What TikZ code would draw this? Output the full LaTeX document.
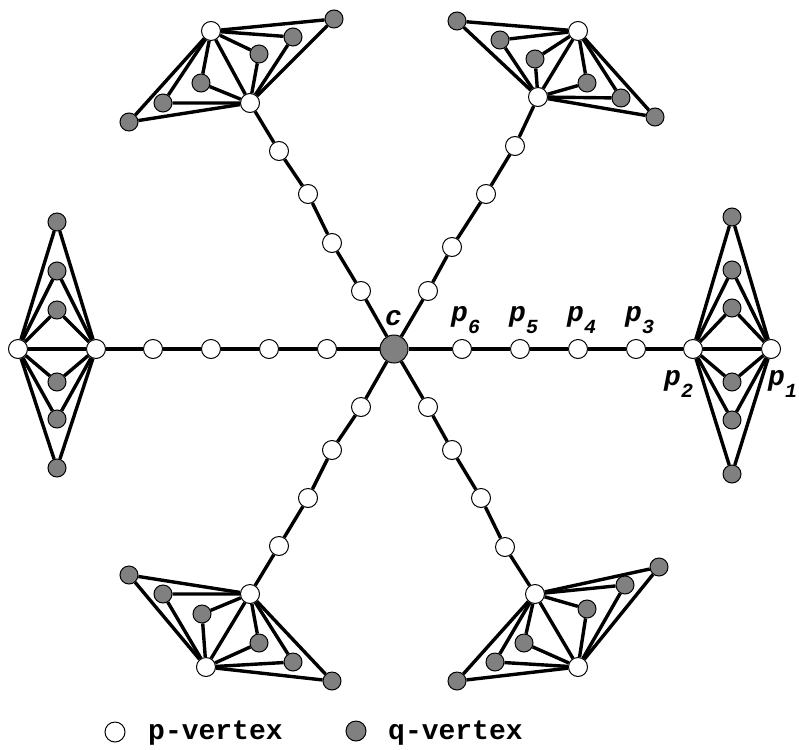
\documentclass[tikz,border=0pt]{standalone}
\usepackage{fontspec}
\setmonofont{Liberation Mono}
\usepackage{tikz}
\usetikzlibrary{backgrounds}
\definecolor{qgray}{RGB}{128,128,128}
\newcommand{\psub}[1]{\raisebox{-12pt}{\fontsize{20}{20}\selectfont #1}}

\begin{document}
\begin{tikzpicture}[x=1pt, y=-1pt,
  pv/.style={circle, draw, fill=white, line width=1pt,
    minimum size=19pt, inner sep=0pt},
  qv/.style={pv, fill=qgray, minimum size=18pt},
  edge/.style={line width=3.4pt},
  lab/.style={font=\ttfamily\bfseries\itshape\fontsize{28}{28}\selectfont,
    inner sep=0pt, anchor=base west},
  legend/.style={font=\ttfamily\bfseries\fontsize{28}{28}\selectfont,
    inner sep=0pt, anchor=base west}
]
\useasboundingbox (0,0) rectangle (799,749);
\node[qv, minimum size=28pt] (c) at (394,349) {};
% right
\foreach \x [count=\i] in {462,520,578,636} \node[pv] (rt\i) at (\x,349) {};
\node[pv] (rt-p2) at (693,349) {};
\node[pv] (rt-p1) at (771,349) {};
\foreach \y [count=\i] in {217,270,308,382,420,474} \node[qv] (rt-q\i) at (732,\y) {};
% left
\foreach \x [count=\i] in {327,269,211,153} \node[pv] (lf\i) at (\x,349) {};
\node[pv] (lf-p2) at (96,349) {};
\node[pv] (lf-p1) at (18,349) {};
\foreach \y [count=\i] in {222,271,310,382,419,468} \node[qv] (lf-q\i) at (57,\y) {};
% upper right
\foreach \x/\y [count=\i] in {428/291,452/247,486/194,515/146} \node[pv] (ur\i) at (\x,\y) {};
\node[pv] (ur-p2) at (538,97) {};
\node[pv] (ur-p1) at (578,31) {};
\foreach \x/\y [count=\i] in {457/21,500/40,535/59,587/83,621/98,655/117}
  \node[qv] (ur-q\i) at (\x,\y) {};
% upper left
\foreach \x/\y [count=\i] in {361/291,332/243,308/194,279/151} \node[pv] (ul\i) at (\x,\y) {};
\node[pv] (ul-p2) at (250,103) {};
\node[pv] (ul-p1) at (211,31) {};
\foreach \x/\y [count=\i] in {129/122,163/103,201/83,259/54,293/37,334/19}
  \node[qv] (ul-q\i) at (\x,\y) {};
% lower left
\foreach \x/\y [count=\i] in {361/407,332/450,308/498,279/546} \node[pv] (ll\i) at (\x,\y) {};
\node[pv] (ll-p2) at (250,594) {};
\node[pv] (ll-p1) at (206,667) {};
\foreach \x/\y [count=\i] in {129/575,163/594,202/614,259/643,293/662,332/681}
  \node[qv] (ll-q\i) at (\x,\y) {};
% lower right
\foreach \x/\y [count=\i] in {428/407,452/450,481/498,505/547} \node[pv] (lr\i) at (\x,\y) {};
\node[pv] (lr-p2) at (535,594) {};
\node[pv] (lr-p1) at (578,667) {};
\foreach \x/\y [count=\i] in {457/681,495/662,524/643,587/609,625/585,659/567}
  \node[qv] (lr-q\i) at (\x,\y) {};
% edges
\begin{scope}[on background layer]
\foreach \a in {rt,lf,ur,ul,ll,lr} {
  \draw[edge] (c) -- (\a1) -- (\a2) -- (\a3) -- (\a4) -- (\a-p2) -- (\a-p1);
  \foreach \i in {1,...,6} \draw[edge] (\a-p2) -- (\a-q\i) -- (\a-p1);
}
\end{scope}
% labels
\node[lab] (lc) at (385,325) {c};
\node[lab] (lp6) at (451,321) {p\psub{6}};
\node[lab] (lp5) at (509,321) {p\psub{5}};
\node[lab] (lp4) at (567,321) {p\psub{4}};
\node[lab] (lp3) at (625,321) {p\psub{3}};
\node[lab] (lp2) at (664,385) {p\psub{2}};
\node[lab] (lp1) at (768,385) {p\psub{1}};
% legend
\node[pv, minimum size=20pt] (lgp) at (115,732) {};
\node[legend] (lgpt) at (148,739) {p-vertex};
\node[qv, minimum size=20pt] (lgq) at (356,731) {};
\node[legend] (lgqt) at (388,739) {q-vertex};
\end{tikzpicture}
\end{document}
